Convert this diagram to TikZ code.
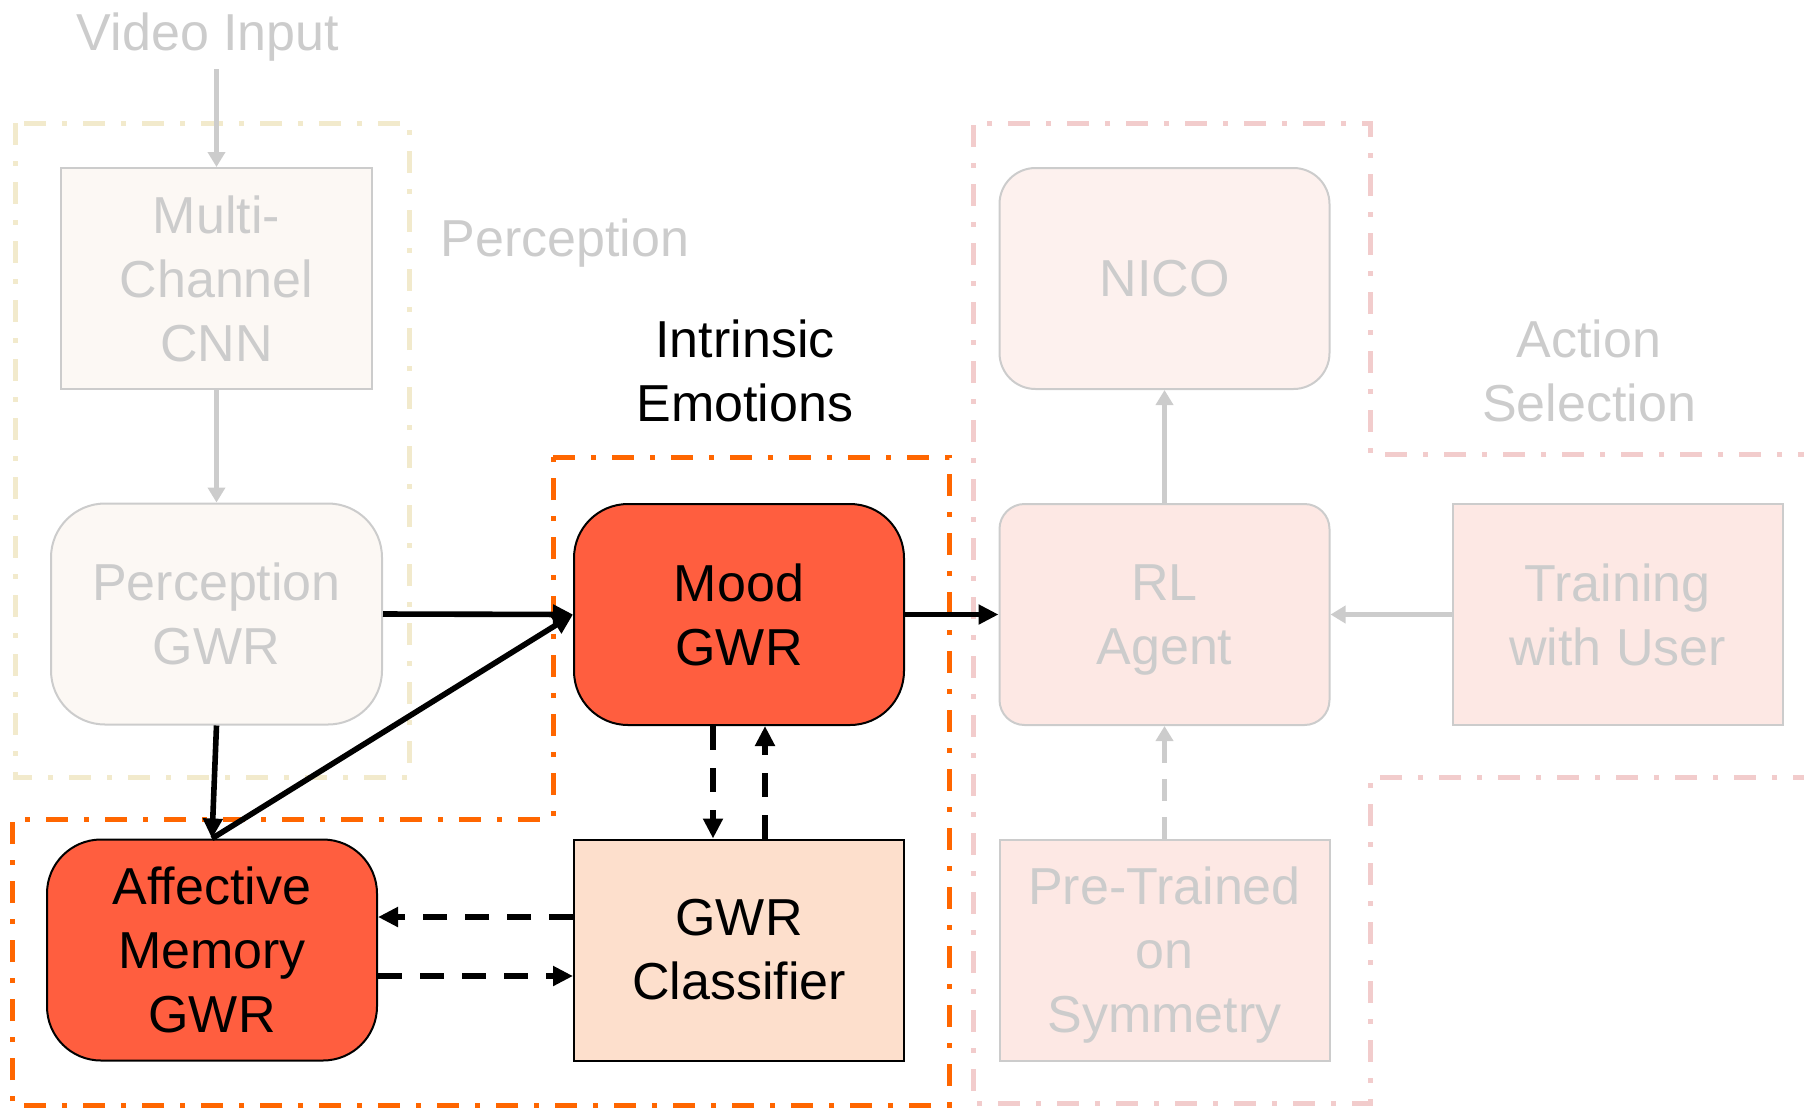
\documentclass[tikz,border=0pt]{standalone}
\usepackage{fontspec}
\setmainfont{Liberation Sans}
\usetikzlibrary{arrows.meta}

\definecolor{moodred}{RGB}{255,94,63}
\definecolor{clsfill}{RGB}{253,223,204}
\definecolor{rlfill}{RGB}{253,232,228}
\definecolor{nicofill}{RGB}{253,241,238}
\definecolor{percfill}{RGB}{252,248,244}
\definecolor{fadegray}{RGB}{204,204,204}
\definecolor{percframe}{RGB}{242,234,204}
\definecolor{emoframe}{RGB}{255,102,0}
\definecolor{actframe}{RGB}{242,204,204}

\tikzset{
  txt/.style={font=\fontsize{26}{32}\selectfont, align=center, inner sep=0pt},
  faded/.style={txt, text=fadegray},
  box/.style={txt, minimum width=165pt, minimum height=110.5pt, line width=1pt},
  emobox/.style={box, draw=black, fill=moodred, rounded corners=27pt},
  clsbox/.style={box, draw=black, fill=clsfill},
  percbox/.style={box, faded, draw=fadegray, fill=percfill},
  actbox/.style={box, faded, draw=fadegray, fill=rlfill},
  frame/.style={line width=2.5pt, dash pattern=on 11pt off 8pt on 2.5pt off 8pt},
  flow/.style={line width=2.8pt, -{Triangle[length=10pt,width=9.5pt]}},
  dflow/.style={flow, dash pattern=on 12pt off 9pt},
  gflow/.style={line width=2.5pt, draw=fadegray, -{Triangle[length=7.5pt,width=8.5pt]}},
  gdflow/.style={gflow, dash pattern=on 11pt off 8pt}
}

\begin{document}
\begin{tikzpicture}[x=0.5pt,y=-0.5pt]
\useasboundingbox (0,0) rectangle (1804,1109);
\clip (0,0) rectangle (1804,1109);

% group frames
\draw[frame, percframe] (15,123) rectangle (409,777);
\draw[frame, emoframe] (553,457) -- (949,457) -- (949,1105) -- (12,1105)
  -- (12,819) -- (553,819) -- cycle;
\draw[frame, actframe] (1820,454) -- (1370,454) -- (1370,123) -- (973,123)
  -- (973,1103) -- (1370,1103) -- (1370,777) -- (1820,777);

% group labels
\node[faded, anchor=base] (vin) at (208,50) {Video Input};
\node[faded, anchor=base west] (lperc) at (440,256) {Perception};
\node[txt] (lintr) at (745,371) {Intrinsic\\Emotions};
\node[faded] (lact) at (1589,371) {Action\\Selection};

% perception
\node[percbox, minimum width=155.5pt] (cnn) at (216.5,278.5) {Multi-\\Channel\\CNN};
\node[percbox, minimum width=165.5pt, rounded corners=27pt] (pgwr) at (216.5,614) {Perception\\GWR};

% intrinsic emotions
\node[emobox] (mood) at (739,614.5) {Mood\\GWR};
\node[emobox] (aff) at (212,950) {Affective\\Memory\\GWR};
\node[clsbox] (cls) at (739,950) {GWR\\Classifier};

% action selection
\node[actbox, fill=nicofill, rounded corners=18pt] (nico) at (1164.5,278.5) {NICO};
\node[actbox, rounded corners=12.5pt] (rl) at (1164.5,614.5) {RL\\\smash{Agent}};
\node[actbox] (train) at (1617.5,614.5) {Training\\with User};
\node[actbox] (pre) at (1164.5,950) {Pre-Trained\\on\\\smash{Symmetry}};

% faded connectors
\draw[gflow, shorten <=4pt] (vin.south -| cnn.north) -- (cnn.north);
\draw[gflow] (cnn.south) -- (pgwr.north);
\draw[gflow] (rl.north) -- (nico.south);
\draw[gflow] (train.west) -- (train.west -| rl.east);
\draw[gdflow] (pre.north) -- (rl.south);

% emotion connectors
\draw[flow] (pgwr.east) -- (mood.west);
\draw[flow] (pgwr.south) -- (aff.north);
\draw[flow] (aff.north) -- (mood.west);
\draw[flow] (mood.east) -- (rl.west);
\draw[dflow] ([xshift=-13pt]mood.south) -- ([xshift=-13pt]cls.north);
\draw[dflow] ([xshift=13pt]cls.north) -- ([xshift=13pt]mood.south);
\draw[dflow] ([yshift=16.5pt]cls.west) -- ([yshift=16.5pt]aff.east);
\draw[dflow] ([yshift=-13pt]aff.east) -- ([yshift=-13pt]cls.west);
\end{tikzpicture}
\end{document}
